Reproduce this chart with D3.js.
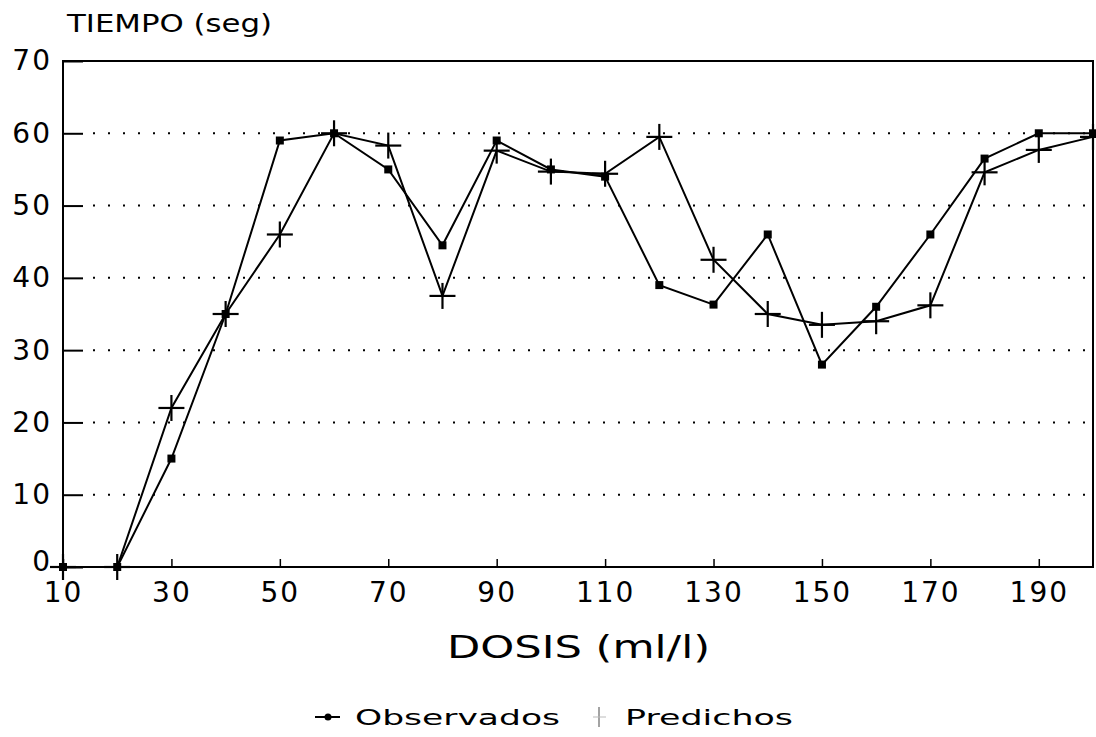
<!DOCTYPE html>
<html>
<head>
<meta charset="utf-8">
<script src="https://cdn.jsdelivr.net/npm/d3@7"></script>
<style>
  body { margin: 0; background: #fff; }
  text { font-family: "DejaVu Sans", sans-serif; fill: #000; }
</style>
</head>
<body>
<svg id="chart" width="1096" height="737"></svg>
<script>
// data
const dosis = [10, 20, 30, 40, 50, 60, 70, 80, 90, 100, 110, 120, 130, 140, 150, 160, 170, 180, 190, 200];
const observados = [0, 0, 15, 35, 59, 60, 55, 44.5, 59, 55, 54, 39, 36.3, 46, 28, 36, 46, 56.5, 60, 60];
const predichos = [0, 0, 22, 35, 46, 60, 58.3, 37.5, 57.6, 54.7, 54.4, 59.5, 42.5, 35, 33.5, 34, 36.2, 54.6, 57.7, 59.5];
const xTicks = [10, 30, 50, 70, 90, 110, 130, 150, 170, 190];
const yTicks = [0, 10, 20, 30, 40, 50, 60, 70];

// plot box
const pLeft = 63, pRight = 1093, pTop = 61, pBottom = 567;

const svg = d3.select("#chart");

const x = d3.scaleLinear().domain([10, 200]).range([pLeft, pRight]);
const y = d3.scaleLinear().domain([0, 70]).range([pBottom, pTop]);

// dotted grid
svg.append("g")
  .selectAll("line")
  .data(yTicks.filter(d => d > 0 && d < 70))
  .enter()
  .append("line")
    .attr("x1", pLeft + 30)
    .attr("x2", pRight)
    .attr("y1", d => y(d))
    .attr("y2", d => y(d))
    .attr("stroke", "#000")
    .attr("stroke-width", 2)
    .attr("stroke-dasharray", "2,13");

// y axis
const yAxis = svg.append("g")
  .attr("transform", `translate(${pLeft},0)`)
  .call(d3.axisLeft(y).tickValues(yTicks).tickSize(-20).tickPadding(11));
yAxis.select(".domain").remove();
yAxis.selectAll("line").attr("stroke-width", 2);
yAxis.selectAll("text")
  .style("font-size", "28px").style("font-family", "DejaVu Sans")
  .style("letter-spacing", "2px");
// the 0 sits a bit higher so it clears the 10 below it
yAxis.selectAll("text").filter(d => d === 0).attr("dy", "0.12em");

// x axis
const xAxis = svg.append("g")
  .attr("transform", `translate(0,${pBottom})`)
  .call(d3.axisBottom(x).tickValues(xTicks).tickSize(-8).tickPadding(15));
xAxis.select(".domain").remove();
xAxis.selectAll("line").attr("stroke-width", 1.5);
xAxis.selectAll("text")
  .style("font-size", "28px").style("font-family", "DejaVu Sans")
  .style("letter-spacing", "2px");

// frame
svg.append("rect")
  .attr("x", pLeft).attr("y", pTop)
  .attr("width", pRight - pLeft).attr("height", pBottom - pTop)
  .attr("fill", "none").attr("stroke", "#000").attr("stroke-width", 2);

const line = d3.line()
  .x(d => x(d[0]))
  .y(d => y(d[1]));

const obsPts = dosis.map((d, i) => [d, observados[i]]);
const predPts = dosis.map((d, i) => [d, predichos[i]]);

svg.append("path")
  .datum(obsPts)
  .attr("d", line)
  .attr("fill", "none").attr("stroke", "#000").attr("stroke-width", 2);

svg.append("path")
  .datum(predPts)
  .attr("d", line)
  .attr("fill", "none").attr("stroke", "#000").attr("stroke-width", 2);

// observados markers (small squares)
svg.append("g")
  .selectAll("rect")
  .data(obsPts)
  .enter()
  .append("rect")
    .attr("x", d => x(d[0]) - 4)
    .attr("y", d => y(d[1]) - 4)
    .attr("width", 8)
    .attr("height", 8)
    .attr("fill", "#000");

// predichos markers (plus)
const plus = svg.append("g").attr("stroke", "#000").attr("stroke-width", 2.2);
plus.selectAll(".h")
  .data(predPts)
  .enter()
  .append("line")
    .attr("class", "h")
    .attr("x1", d => x(d[0]) - 13)
    .attr("x2", d => x(d[0]) + 13)
    .attr("y1", d => y(d[1]))
    .attr("y2", d => y(d[1]));
plus.selectAll(".v")
  .data(predPts)
  .enter()
  .append("line")
    .attr("class", "v")
    .attr("x1", d => x(d[0]))
    .attr("x2", d => x(d[0]))
    .attr("y1", d => y(d[1]) - 13)
    .attr("y2", d => y(d[1]) + 13);

// titles
svg.append("text")
  .attr("x", 67).attr("y", 32)
  .attr("textLength", 205).attr("lengthAdjust", "spacingAndGlyphs")
  .style("font-size", "24px")
  .text("TIEMPO (seg)");

svg.append("text")
  .attr("x", 447).attr("y", 658)
  .attr("textLength", 263).attr("lengthAdjust", "spacingAndGlyphs")
  .style("font-size", "32px")
  .text("DOSIS (ml/l)");

// legend
const lg = svg.append("g");
lg.append("line")
  .attr("x1", 315).attr("x2", 340).attr("y1", 717).attr("y2", 717)
  .attr("stroke", "#000").attr("stroke-width", 2);
lg.append("circle")
  .attr("cx", 328).attr("cy", 717).attr("r", 3.5).attr("fill", "#000");
lg.append("text")
  .attr("x", 355).attr("y", 725)
  .attr("textLength", 205).attr("lengthAdjust", "spacingAndGlyphs")
  .style("font-size", "22px")
  .text("Observados");
lg.append("line")
  .attr("x1", 599).attr("x2", 599).attr("y1", 707).attr("y2", 727)
  .attr("stroke", "#666").attr("stroke-width", 1.2);
lg.append("line")
  .attr("x1", 593).attr("x2", 606).attr("y1", 717).attr("y2", 717)
  .attr("stroke", "#bbb").attr("stroke-width", 1);
lg.append("text")
  .attr("x", 625).attr("y", 725)
  .attr("textLength", 168).attr("lengthAdjust", "spacingAndGlyphs")
  .style("font-size", "22px")
  .text("Predichos");
</script>
</body>
</html>
